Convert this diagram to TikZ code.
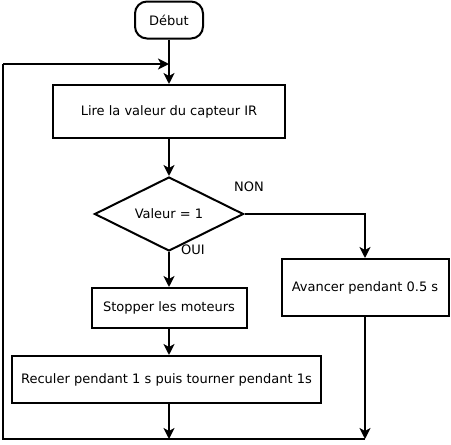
\documentclass[tikz,border=0pt]{standalone}
\usepackage{fontspec}
\setmainfont{DejaVu Sans}
\usetikzlibrary{arrows.meta,shapes.geometric}

\tikzset{
  bloc/.style={draw,line width=2pt,rectangle,inner sep=0pt},
  fleche/.style={line width=2pt,-{Stealth[length=11pt,width=11pt,inset=3pt]}},
  trait/.style={line width=2pt}
}

\begin{document}
\begin{tikzpicture}[x=1pt,y=-1pt,font=\fontsize{13}{15}\selectfont]
    \useasboundingbox (0,0) rectangle (451,445);
    % blocs
    \node[bloc,rounded corners=12pt,minimum width=68pt,minimum height=37pt] (debut) at (169,20) {Début};
    \node[bloc,minimum width=232pt,minimum height=53pt] (lire) at (169,111.5) {Lire la valeur du capteur IR};
    \node[draw,line width=2pt,diamond,aspect=2,inner sep=0pt,minimum width=149pt,minimum height=74pt] (test) at (169,214) {Valeur = 1};
    \node[bloc,minimum width=155pt,minimum height=40pt] (stop) at (169,308) {Stopper les moteurs};
    \node[bloc,minimum width=309pt,minimum height=47pt] (recul) at (166.5,379.5) {Reculer pendant 1 s puis tourner pendant 1s};
    \node[bloc,minimum width=167pt,minimum height=57pt] (avance) at (365,287.5) {Avancer pendant 0.5 s};
    % etiquettes
    \node (non) at (249,187) {NON};
    \node (oui) at (193,250) {OUI};
    % points de jonction
    \coordinate (j0) at (169,64);
    \coordinate (j1) at (169,439);
    \coordinate (j2) at (avance.south |- j1);
    \coordinate (c0) at (3,439);
    \coordinate (c1) at (3,64);
    % liaisons
    \draw[fleche] (debut.south) -- (lire.north);
    \draw[fleche] (lire.south) -- (test.north);
    \draw[fleche] (test.south) -- (stop.north);
    \draw[fleche] (stop.south) -- (recul.north -| stop.south);
    \draw[fleche] (recul.south -| j1) -- (j1);
    \draw[fleche] (test.east) -| (avance.north);
    \draw[fleche] (avance.south) -- (j2);
    \draw[trait] (j2) -- (c0) -- (c1);
    \draw[fleche] (c1) -- (j0);
\end{tikzpicture}
\end{document}
